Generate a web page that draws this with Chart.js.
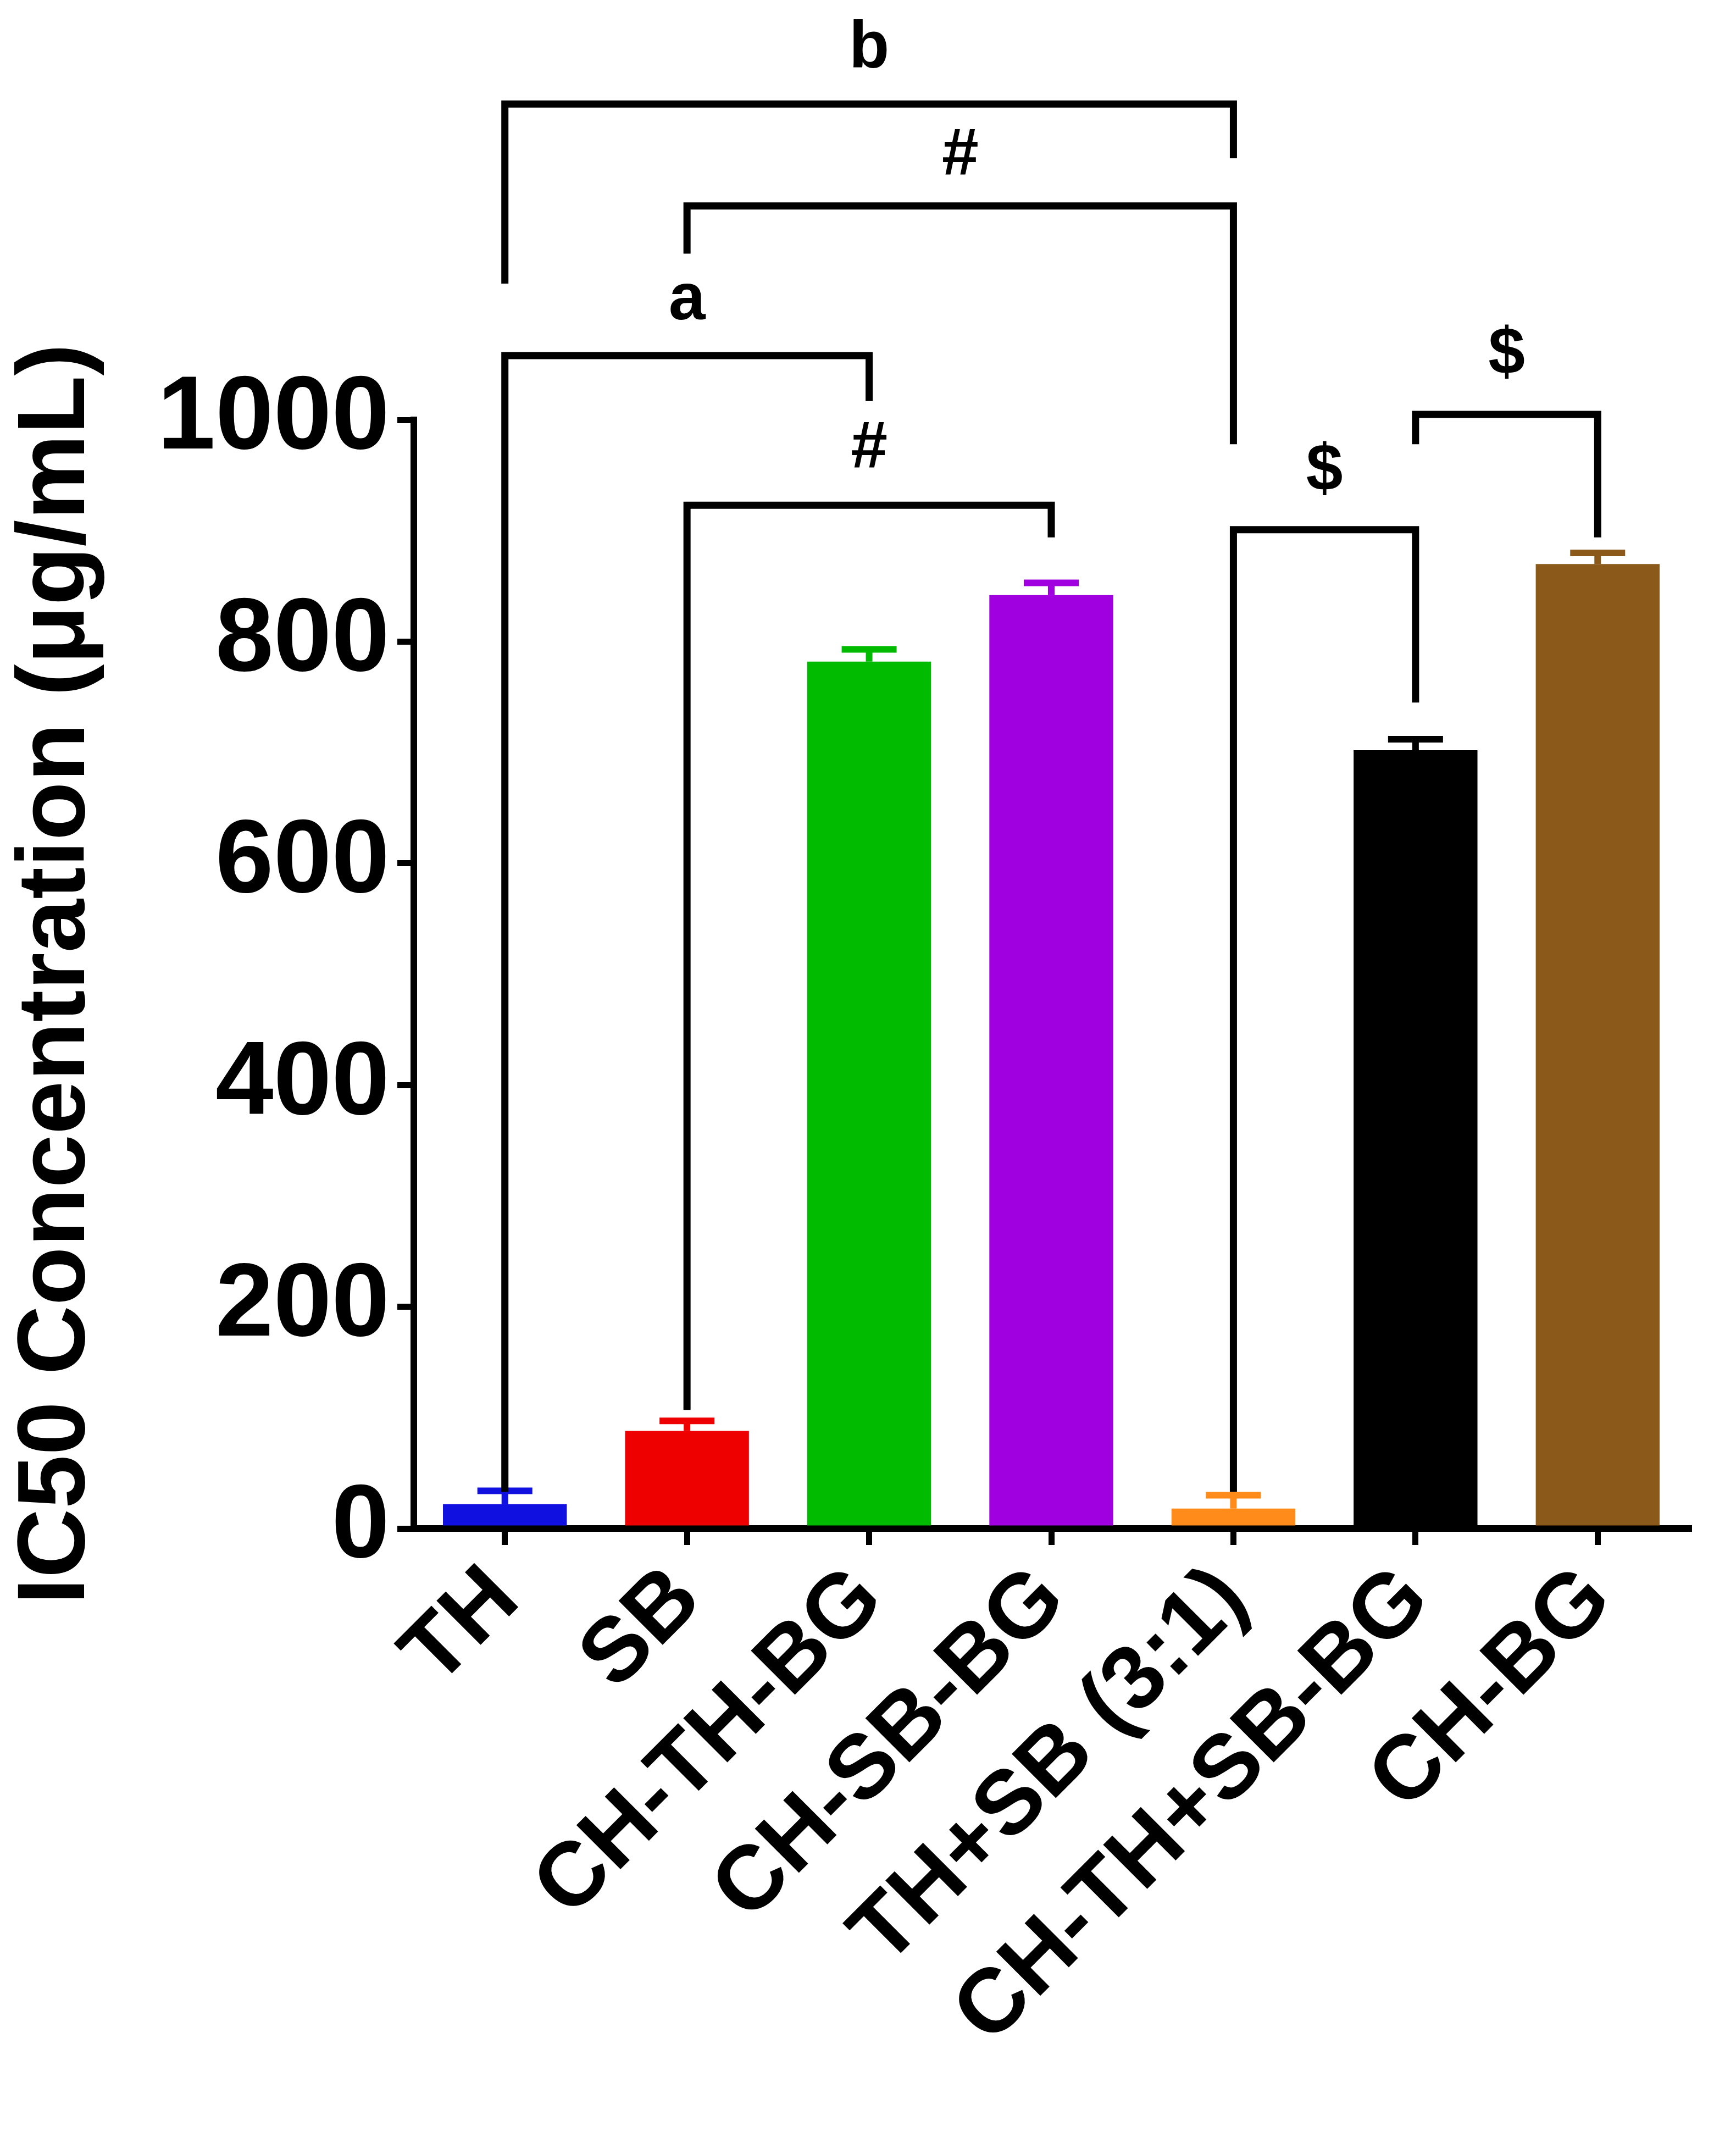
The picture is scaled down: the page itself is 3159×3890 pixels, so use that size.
<!DOCTYPE html>
<html>
<head>
<meta charset="utf-8">
<script src="https://cdn.jsdelivr.net/npm/chart.js@4"></script>
<style>
  html, body { margin: 0; padding: 0; background: #fff; }
</style>
</head>
<body>
<canvas id="ic50Chart" width="3159" height="3890"></canvas>
<script>
/* ---------------------------------------------------
   IC50 data (mean + SD)
---------------------------------------------------*/

const groups = ["TH", "SB", "CH-TH-BG", "CH-SB-BG", "TH+SB (3:1)", "CH-TH+SB-BG", "CH-BG"];
const means  = [22, 88, 782, 842, 18, 702, 870];
const errors = [12, 9, 11, 11, 12, 10, 10];
const colors = ["#1010e0", "#ee0000", "#00bb00", "#a000e0", "#ff8c1a", "#000000", "#8b5a1b"];

/* brackets: from index, to index, top value, left leg end, right leg end, label, label value */
const brackets = [
    { a: 0, b: 4, top: 1285, l: 1123, r: 1236, text: "b", ty: 1334 },
    { a: 1, b: 4, top: 1193, l: 1150, r: 978,  text: "#", ty: 1238 },
    { a: 0, b: 2, top: 1058, l: 33,   r: 1017, text: "a", ty: 1107 },
    { a: 1, b: 3, top: 923,  l: 107,  r: 894,  text: "#", ty: 974 },
    { a: 4, b: 5, top: 901,  l: 33,   r: 745,  text: "$", ty: 953 },
    { a: 5, b: 6, top: 1005, l: 978,  r: 894,  text: "$", ty: 1058 }
];

const annotationPlugin = {
    id: "annotations",
    afterDatasetsDraw(chart) {
        const ctx = chart.ctx;
        const x = chart.scales.x;
        const y = chart.scales.y;

        ctx.save();
        ctx.lineWidth = 12;
        ctx.lineCap = "butt";

        // error bars (upper only)
        means.forEach((m, i) => {
            const cx = x.getPixelForValue(i);
            ctx.strokeStyle = colors[i];
            ctx.beginPath();
            ctx.moveTo(cx, y.getPixelForValue(m));
            ctx.lineTo(cx, y.getPixelForValue(m + errors[i]));
            ctx.moveTo(cx - 50, y.getPixelForValue(m + errors[i]));
            ctx.lineTo(cx + 50, y.getPixelForValue(m + errors[i]));
            ctx.stroke();
        });

        // significance brackets
        ctx.strokeStyle = "#000";
        ctx.fillStyle = "#000";
        ctx.lineWidth = 13;
        ctx.font = "bold 120px 'Liberation Sans', Arial, sans-serif";
        ctx.textAlign = "center";
        ctx.textBaseline = "middle";
        brackets.forEach(br => {
            const x1 = x.getPixelForValue(br.a);
            const x2 = x.getPixelForValue(br.b);
            ctx.beginPath();
            ctx.moveTo(x1, y.getPixelForValue(br.l));
            ctx.lineTo(x1, y.getPixelForValue(br.top));
            ctx.lineTo(x2, y.getPixelForValue(br.top));
            ctx.lineTo(x2, y.getPixelForValue(br.r));
            ctx.stroke();
            ctx.fillText(br.text, (x1 + x2) / 2, y.getPixelForValue(br.ty));
        });

        ctx.restore();
    }
};

const font = "'Liberation Sans', Arial, sans-serif";

new Chart(document.getElementById("ic50Chart"), {
    type: "bar",
    data: {
        labels: groups,
        datasets: [{
            data: means,
            backgroundColor: colors,
            categoryPercentage: 1,
            barPercentage: 0.68
        }]
    },
    options: {
        responsive: false,
        animation: false,
        layout: { padding: { top: 764, right: 86, left: 0, bottom: 0 } },
        plugins: {
            legend: { display: false },
            tooltip: { enabled: false }
        },
        scales: {
            x: {
                afterFit(scale) { scale.height = 3890 - 2781; },
                grid: { offset: false, drawOnChartArea: false, color: "#000", lineWidth: 11, tickLength: 30 },
                border: { color: "#000", width: 12 },
                ticks: {
                    color: "#000",
                    minRotation: 45,
                    maxRotation: 45,
                    font: { family: font, weight: "bold", size: 165 }
                }
            },
            y: {
                min: 0,
                max: 1000,
                afterFit(scale) { scale.width = 753; },
                grid: { drawOnChartArea: false, color: "#000", lineWidth: 11, tickLength: 30 },
                border: { color: "#000", width: 12 },
                ticks: {
                    stepSize: 200,
                    color: "#000",
                    padding: 14,
                    callback: v => String(v),
                    font: { family: font, weight: "bold", size: 190 }
                },
                title: {
                    display: true,
                    text: "IC50 Concentration (μg/mL)",
                    color: "#000",
                    padding: { top: 0, bottom: 40 },
                    font: { family: font, weight: "bold", size: 175 }
                }
            }
        }
    },
    plugins: [annotationPlugin]
});
</script>
</body>
</html>
